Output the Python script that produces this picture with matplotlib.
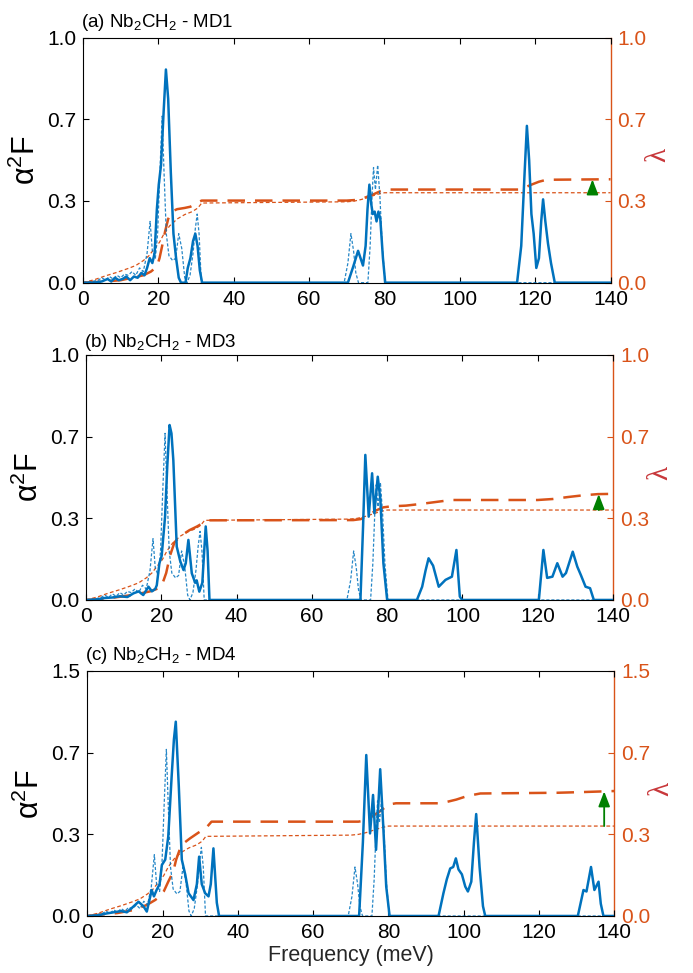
import numpy as np
import matplotlib
matplotlib.use('Agg')
import matplotlib.pyplot as plt

plt.rcParams['font.family'] = ['Liberation Sans', 'DejaVu Sans']
plt.rcParams['mathtext.fontset'] = 'custom'
plt.rcParams['mathtext.rm'] = 'Liberation Sans'
plt.rcParams['mathtext.it'] = 'Liberation Sans:italic'
plt.rcParams['mathtext.default'] = 'regular'

# --- data (frequency in meV, value) ---
# pristine Nb2CH2 (same reference curves in every panel)
pristine_a2f = np.array([
    [0, 0], [2, 0.003], [4, 0.01], [5, 0.02], [6, 0.01], [7, 0.025], [8, 0.015], [9, 0.03],
    [10, 0.02], [11, 0.035], [12, 0.03], [13, 0.045], [14, 0.03], [15, 0.06], [16, 0.045],
    [17, 0.12], [17.8, 0.25], [18.4, 0.13], [19.2, 0.1], [19.8, 0.2], [20.4, 0.45], [21.0, 0.68],
    [21.5, 0.45], [22.1, 0.2], [22.8, 0.11], [23.8, 0.09], [24.6, 0.1], [25.4, 0.2], [26.2, 0.14],
    [27.0, 0.02], [27.6, 0.0], [28.4, 0.03], [29.2, 0.12], [29.8, 0.22], [30.3, 0.28], [30.8, 0.2],
    [31.4, 0.0], [69.3, 0.0], [70.3, 0.08], [71.1, 0.2], [71.8, 0.13], [72.4, 0.04], [73.1, 0.0],
    [75.6, 0.0], [76.2, 0.15], [76.7, 0.35], [77.1, 0.47], [77.6, 0.38], [78.2, 0.48], [78.8, 0.35],
    [79.4, 0.15], [80.2, 0.0], [140, 0.0]])
pristine_lam = np.array([
    [0, 0], [3, 0.012], [6, 0.028], [9, 0.042], [12, 0.058], [14, 0.07], [16, 0.09], [17.5, 0.11],
    [19, 0.14], [20.3, 0.165], [21.5, 0.2], [23, 0.232], [25, 0.26], [27, 0.278], [29, 0.29],
    [30.5, 0.305], [31.5, 0.325], [70, 0.33], [72, 0.333], [74, 0.34], [76, 0.35], [78, 0.36],
    [80, 0.367], [140, 0.367]])

md1_a2f = np.array([
    [0, 0], [3, 0], [5, 0.005], [6.5, 0.015], [7.5, 0.005], [8.5, 0.02], [9.5, 0.01], [10.5, 0.015],
    [11.5, 0.025], [12.5, 0.01], [13.5, 0.025], [14.5, 0.02], [15.5, 0.04], [16.3, 0.03], [17, 0.06],
    [17.7, 0.1], [18.4, 0.08], [19, 0.12], [19.6, 0.3], [20.1, 0.4], [20.7, 0.48], [21.4, 0.7],
    [22.0, 0.87], [22.6, 0.75], [23.3, 0.45], [24.0, 0.2], [24.7, 0.1], [25.4, 0.02], [26.0, 0.0],
    [27.2, 0.0], [27.8, 0.06], [28.5, 0.1], [29.2, 0.17], [29.8, 0.2], [30.4, 0.15], [31.0, 0.05],
    [31.6, 0.0], [70.3, 0.0], [71.7, 0.065], [73.0, 0.13], [74.3, 0.07], [75.0, 0.15], [75.5, 0.3],
    [76.0, 0.4], [76.5, 0.32], [76.9, 0.28], [77.4, 0.29], [77.9, 0.25], [78.4, 0.29], [78.9, 0.26],
    [79.6, 0.1], [80.2, 0.0], [115.2, 0.0], [116.3, 0.15], [117.2, 0.45], [117.8, 0.64], [118.4, 0.5],
    [119.0, 0.28], [119.6, 0.2], [120.3, 0.06], [121.0, 0.1], [121.6, 0.25], [122.1, 0.34],
    [122.7, 0.25], [123.4, 0.16], [124.2, 0.08], [125.2, 0.0], [140, 0.0]])
md1_lam = np.array([
    [0, 0], [5, 0.004], [10, 0.01], [13, 0.02], [16, 0.03], [18, 0.045], [19.6, 0.065], [20.3, 0.1],
    [21.0, 0.15], [21.8, 0.21], [22.6, 0.26], [23.5, 0.29], [25, 0.3], [27, 0.305], [28.5, 0.31],
    [29.8, 0.32], [30.8, 0.33], [31.5, 0.335], [70, 0.335], [73, 0.338], [75, 0.348], [77, 0.36],
    [79, 0.374], [80.5, 0.38], [116, 0.38], [117.5, 0.39], [119, 0.4], [121, 0.412], [123, 0.42],
    [140, 0.422]])

md3_a2f = np.array([
    [0, 0], [3, 0.002], [5, 0.008], [7, 0.01], [9, 0.015], [11, 0.012], [12.6, 0.027], [14, 0.035],
    [15.2, 0.02], [16.6, 0.054], [17.5, 0.035], [18.4, 0.045], [18.8, 0.06], [19.5, 0.15],
    [20.1, 0.18], [21.0, 0.34], [21.6, 0.55], [22.2, 0.714], [22.7, 0.68], [23.2, 0.57],
    [24.1, 0.218], [25.0, 0.16], [25.9, 0.122], [26.5, 0.15], [27.2, 0.245], [28.1, 0.109],
    [29.0, 0.07], [29.4, 0.08], [30.1, 0.034], [30.9, 0.07], [31.4, 0.2], [31.8, 0.3], [32.3, 0.2],
    [32.8, 0.0], [72.9, 0.0], [73.6, 0.3], [74.2, 0.592], [75.1, 0.34], [76.0, 0.517], [76.6, 0.354],
    [77.5, 0.503], [78.2, 0.41], [79.0, 0.15], [80.0, 0.0], [87.9, 0.0], [89.3, 0.054], [90.2, 0.12],
    [91.0, 0.17], [92.2, 0.14], [93.7, 0.054], [95.5, 0.082], [97.2, 0.095], [98.4, 0.204],
    [99.3, 0.014], [99.9, 0.0], [120.3, 0.0], [121.5, 0.204], [122.5, 0.09], [123.9, 0.095],
    [125.2, 0.15], [126.6, 0.095], [127.5, 0.11], [129.3, 0.197], [130.5, 0.136], [131.5, 0.1],
    [132.7, 0.054], [133.9, 0.048], [134.9, 0.0], [140, 0.0]])
md3_lam = np.array([
    [0, 0], [5, 0.005], [10, 0.015], [14, 0.025], [17, 0.035], [19.7, 0.05], [20.5, 0.075],
    [21.3, 0.11], [22.3, 0.18], [23.5, 0.235], [25, 0.26], [27.5, 0.285], [29.5, 0.3],
    [31.5, 0.318], [32.5, 0.325], [71, 0.326], [73, 0.33], [75, 0.345], [77, 0.365], [79, 0.378],
    [81, 0.382], [85, 0.385], [89, 0.392], [93, 0.4], [97, 0.408], [120, 0.408], [124, 0.412],
    [128, 0.42], [132, 0.427], [136, 0.432], [140, 0.433]])

md4_a2f = np.array([
    [0, 0], [3, 0.003], [5, 0.01], [7, 0.015], [9, 0.02], [10.5, 0.015], [12.2, 0.038],
    [13.6, 0.058], [14.9, 0.04], [15.8, 0.018], [16.5, 0.065], [17.1, 0.106], [17.7, 0.08],
    [18.4, 0.106], [19.2, 0.13], [19.8, 0.208], [20.7, 0.23], [21.5, 0.324], [22.4, 0.569],
    [23.0, 0.72], [23.5, 0.793], [24.3, 0.53], [25.1, 0.23], [26.0, 0.17], [26.9, 0.093],
    [28.2, 0.065], [29.1, 0.13], [29.7, 0.242], [30.4, 0.13], [31.3, 0.093], [32.2, 0.08],
    [32.8, 0.13], [33.5, 0.276], [34.4, 0.054], [35.0, 0.0], [72.2, 0.0], [73.2, 0.3],
    [74.1, 0.657], [75.1, 0.337], [75.9, 0.494], [76.7, 0.27], [77.8, 0.599], [78.6, 0.37],
    [79.4, 0.12], [80.3, 0.0], [93.3, 0.0], [94.6, 0.093], [95.5, 0.15], [96.4, 0.194], [97.2, 0.2],
    [97.9, 0.235], [98.6, 0.19], [99.5, 0.17], [100.4, 0.12], [101.1, 0.1], [102, 0.14],
    [102.7, 0.3], [103.3, 0.416], [104.2, 0.2], [105.1, 0.04], [105.7, 0.0], [130.3, 0.0],
    [131.8, 0.106], [132.6, 0.1], [133.8, 0.2], [134.7, 0.106], [135.8, 0.14], [136.4, 0.05],
    [137.1, 0.0], [140, 0.0]])
md4_lam = np.array([
    [0, 0], [3, 0.005], [8, 0.012], [12.2, 0.024], [15.8, 0.045], [18, 0.065], [19.3, 0.08],
    [20.3, 0.1], [21.5, 0.14], [22.8, 0.18], [23.6, 0.23], [24.2, 0.256], [25, 0.29], [27.3, 0.317],
    [29.5, 0.34], [31.7, 0.362], [33, 0.385], [72, 0.385], [74, 0.39], [76, 0.41], [78, 0.43],
    [80, 0.455], [82, 0.46], [94, 0.46], [98, 0.475], [101, 0.49], [104.4, 0.5], [125, 0.503],
    [132, 0.506], [140, 0.51]])

titles = ['(a) Nb$_2$CH$_2$ - MD1', '(b) Nb$_2$CH$_2$ - MD3', '(c) Nb$_2$CH$_2$ - MD4']
top_labels = ['1.0', '1.0', '1.5']
arrow_x = [135.2, 136.2, 137.3]
x_ticks = [0, 20, 40, 60, 80, 100, 120, 140]

blue = '#0072BD'
orange = '#D95319'
green = '#008000'

fig = plt.figure(figsize=(6.93, 9.73), dpi=100)
rects = [(0.1198, 0.7095, 0.7612, 0.2518),
         (0.1241, 0.3834, 0.7605, 0.2518),
         (0.1260, 0.0586, 0.7605, 0.2518)]
title_y = [1.045, 1.034, 1.045]

md_a2f = [md1_a2f, md3_a2f, md4_a2f]
md_lam = [md1_lam, md3_lam, md4_lam]

for i in range(3):
    ax = fig.add_axes(rects[i])
    ax2 = ax.twinx()
    ax.set_zorder(ax2.get_zorder() + 1)
    ax.patch.set_visible(False)

    # lambda curves (right axis)
    ax2.plot(pristine_lam[:, 0], pristine_lam[:, 1], color=orange, lw=0.9, ls=(0, (3, 2)))
    ax2.plot(md_lam[i][:, 0], md_lam[i][:, 1], color=orange, lw=1.8, ls=(0, (7, 4)))
    y0 = np.interp(arrow_x[i], pristine_lam[:, 0], pristine_lam[:, 1])
    y1 = np.interp(arrow_x[i], md_lam[i][:, 0], md_lam[i][:, 1])
    ax2.annotate('', xy=(arrow_x[i], y1), xytext=(arrow_x[i], y0),
                 arrowprops=dict(arrowstyle='-|>,head_length=0.65,head_width=0.25',
                                 color=green, lw=1.3, mutation_scale=14,
                                 shrinkA=0, shrinkB=0))

    # alpha^2 F curves (left axis)
    ax.plot(pristine_a2f[:, 0], pristine_a2f[:, 1], color=blue, lw=0.9, ls=(0, (2.5, 1.5)),
            alpha=0.85)
    ax.plot(md_a2f[i][:, 0], md_a2f[i][:, 1], color=blue, lw=1.8)

    yt = [0, 1 / 3, 2 / 3, 1]
    ylab = ['0.0', '0.3', '0.7', top_labels[i]]
    for a in (ax, ax2):
        a.set_xlim(0, 140)
        a.set_ylim(0, 1)
        a.set_yticks(yt)
        a.set_yticklabels(ylab)
    ax.set_xticks(x_ticks)
    ax.tick_params(axis='both', direction='in', length=4, width=0.8, labelsize=15,
                   top=True, right=False, pad=5)
    ax.spines['right'].set_visible(False)
    ax2.tick_params(axis='y', direction='in', length=4, width=0.8, labelsize=15,
                    colors=orange, pad=5)
    ax2.spines['right'].set_color(orange)
    ax2.spines['right'].set_linewidth(1.0)
    for s in ('left', 'top', 'bottom'):
        ax2.spines[s].set_visible(False)

    ax.set_ylabel(r'$\alpha^2$F', fontsize=22, math_fontfamily='stix')
    ax.yaxis.set_label_coords(-0.078, 0.5)
    ax2.set_ylabel('λ', fontsize=21, color='#C8373A', family='Liberation Serif', rotation=90)
    ax2.yaxis.set_label_coords(1.065, 0.52)

    ax.text(-0.004, title_y[i], titles[i], transform=ax.transAxes, fontsize=13.5,
            ha='left', va='baseline')

    if i == 2:
        ax.set_xlabel('Frequency (meV)', fontsize=15.5, color='#262626', labelpad=2)

fig.savefig('out.png', dpi=100)
